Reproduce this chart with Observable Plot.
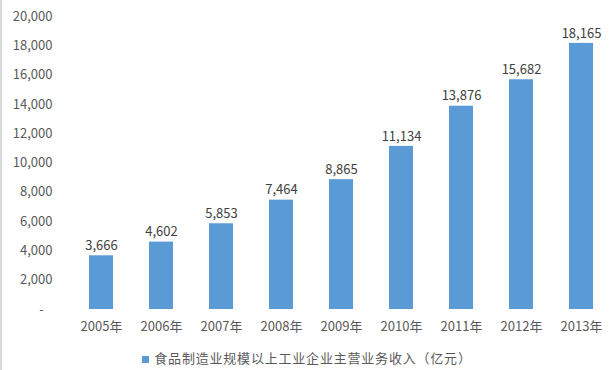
<!DOCTYPE html>
<html><head><meta charset="utf-8">
<script src="https://cdn.jsdelivr.net/npm/d3@7"></script>
<script src="https://cdn.jsdelivr.net/npm/@observablehq/plot@0.6"></script>
<style>
html,body{margin:0;padding:0;background:#fff;}
body{width:614px;height:370px;overflow:hidden;position:relative;font-family:"Noto Sans CJK SC","Noto Sans",sans-serif;}
#frame{position:absolute;left:0;top:0;width:2px;height:370px;background:#d9d9d9;}
#legend{position:absolute;left:0;width:614px;top:348px;text-align:center;font-size:13px;color:#595959;letter-spacing:0.8px;}
#legend .sw{display:inline-block;width:7px;height:7px;background:#5B9BD5;margin-right:5px;vertical-align:0px;}
</style></head>
<body>
<div id="frame"></div>
<div id="chart"></div>
<div id="legend"></div>
<script>
const years = ["2005年","2006年","2007年","2008年","2009年","2010年","2011年","2012年","2013年"];
const revenue = [3666,4602,5853,7464,8865,11134,13876,15682,18165];
const yTicks = [0,2000,4000,6000,8000,10000,12000,14000,16000,18000,20000];
const seriesName = "食品制造业规模以上工业企业主营业务收入（亿元）";

const data = years.map((y,i)=>({year:y, value:revenue[i]}));
const fmt = d3.format(",");
const font = '"Noto Sans CJK SC","Noto Sans",sans-serif';

const chart = Plot.plot({
  width: 614, height: 335,
  marginLeft: 68, marginRight: 0, marginTop: 16, marginBottom: 26,
  style: {fontFamily: font, fontSize: "13px", color: "#595959", background: "#fff"},
  x: {domain: years, paddingInner: 0.6, paddingOuter: 0.3, label: null, tickSize: 0, tickPadding: 12},
  y: {domain: [0,20000], ticks: yTicks, label: null, tickSize: 0, tickPadding: 16,
      tickFormat: d => d === 0 ? "-\u00a0\u00a0\u00a0" : fmt(d)},
  marks: [
    Plot.ruleY([0], {stroke: "#d9d9d9", x1: years[0], x2: years[years.length-1], insetLeft: -19, insetRight: -26}),
    Plot.barY(data, {x: "year", y: "value", fill: "#5B9BD5"}),
    Plot.text(data, {x: "year", y: "value", text: d => fmt(d.value), dy: -10, fill: "#404040", fontSize: 13})
  ]
});
document.getElementById("chart").appendChild(chart);
document.getElementById("legend").innerHTML = '<span class="sw"></span>' + seriesName;
</script>
</body></html>
